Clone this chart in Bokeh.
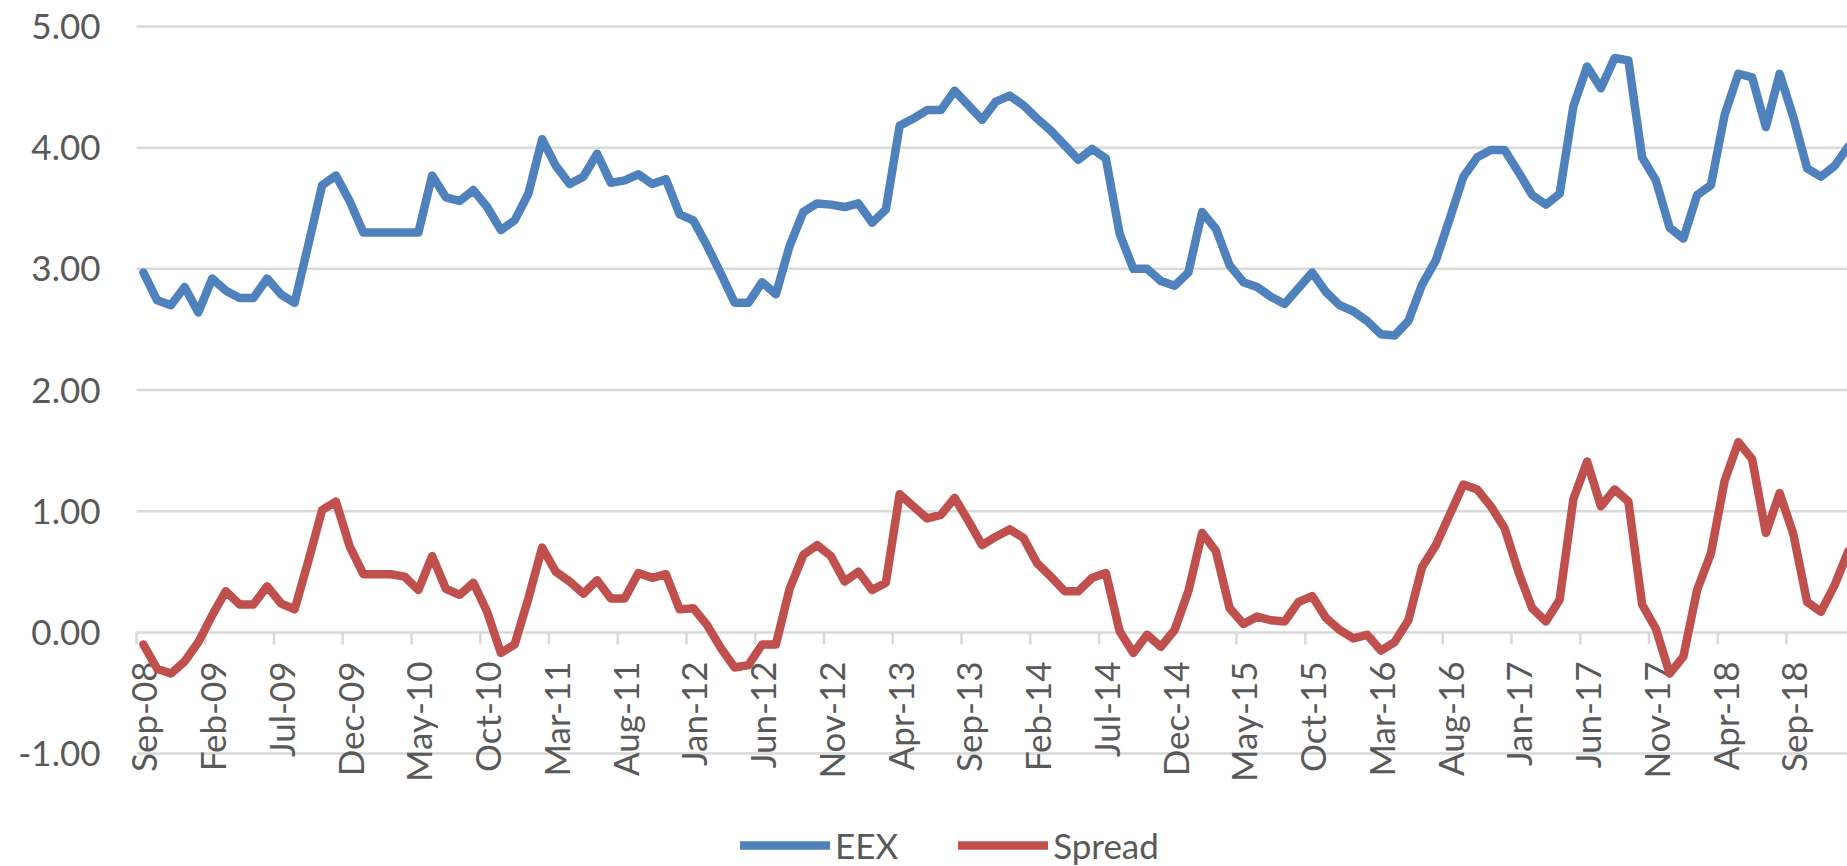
import math
import pandas as pd
from bokeh.plotting import figure
from bokeh.models import (Range1d, FixedTicker, NumeralTickFormatter, LinearAxis,
                          Legend, LegendItem, ColumnDataSource, LabelSet)
from bokeh.core.properties import value
from bokeh.embed import file_html
from bokeh.resources import INLINE

# ---------------- data ----------------
months = [d.strftime("%b-%y") for d in pd.date_range("2008-09-01", periods=125, freq="MS")]

eex = [2.97, 2.74, 2.70, 2.85, 2.64, 2.92, 2.82, 2.76, 2.76, 2.92,
       2.79, 2.72, 3.20, 3.69, 3.77, 3.56, 3.30, 3.30, 3.30, 3.30,
       3.30, 3.77, 3.59, 3.56, 3.65, 3.51, 3.32, 3.40, 3.62, 4.07,
       3.85, 3.70, 3.76, 3.95, 3.71, 3.73, 3.78, 3.70, 3.74, 3.45,
       3.40, 3.19, 2.96, 2.72, 2.72, 2.89, 2.79, 3.19, 3.47, 3.54,
       3.53, 3.51, 3.54, 3.38, 3.49, 4.18, 4.24, 4.31, 4.31, 4.47,
       4.35, 4.23, 4.38, 4.43, 4.35, 4.24, 4.14, 4.02, 3.90, 3.99,
       3.91, 3.29, 3.00, 3.00, 2.90, 2.86, 2.97, 3.47, 3.33, 3.03,
       2.89, 2.85, 2.77, 2.71, 2.84, 2.97, 2.81, 2.70, 2.65, 2.57,
       2.46, 2.45, 2.57, 2.87, 3.07, 3.41, 3.76, 3.92, 3.98, 3.98,
       3.80, 3.61, 3.53, 3.62, 4.34, 4.67, 4.49, 4.74, 4.72, 3.92,
       3.73, 3.34, 3.25, 3.61, 3.69, 4.27, 4.61, 4.58, 4.17, 4.61,
       4.25, 3.83, 3.76, 3.85, 4.01]

spread = [-0.10, -0.30, -0.34, -0.24, -0.08, 0.14, 0.34, 0.23, 0.23, 0.38,
          0.24, 0.19, 0.59, 1.01, 1.08, 0.71, 0.48, 0.48, 0.48, 0.46,
          0.35, 0.63, 0.36, 0.31, 0.41, 0.17, -0.17, -0.10, 0.28, 0.70,
          0.50, 0.42, 0.32, 0.43, 0.28, 0.28, 0.49, 0.45, 0.48, 0.19,
          0.20, 0.06, -0.13, -0.29, -0.27, -0.10, -0.10, 0.36, 0.64, 0.72,
          0.63, 0.42, 0.50, 0.35, 0.41, 1.14, 1.04, 0.94, 0.97, 1.11,
          0.92, 0.72, 0.79, 0.85, 0.78, 0.57, 0.46, 0.34, 0.34, 0.45,
          0.49, 0.01, -0.17, -0.02, -0.12, 0.02, 0.34, 0.82, 0.67, 0.20,
          0.07, 0.13, 0.10, 0.09, 0.25, 0.30, 0.12, 0.02, -0.05, -0.02,
          -0.15, -0.08, 0.10, 0.54, 0.72, 0.97, 1.22, 1.18, 1.04, 0.86,
          0.50, 0.20, 0.09, 0.27, 1.10, 1.41, 1.04, 1.18, 1.08, 0.23,
          0.03, -0.34, -0.20, 0.35, 0.65, 1.25, 1.57, 1.43, 0.82, 1.15,
          0.81, 0.25, 0.17, 0.39, 0.67]

tick_labels = ["Sep-08", "Feb-09", "Jul-09", "Dec-09", "May-10", "Oct-10", "Mar-11",
               "Aug-11", "Jan-12", "Jun-12", "Nov-12", "Apr-13", "Sep-13", "Feb-14",
               "Jul-14", "Dec-14", "May-15", "Oct-15", "Mar-16", "Aug-16", "Jan-17",
               "Jun-17", "Nov-17", "Apr-18", "Sep-18"]

y_ticks = [-1, 0, 1, 2, 3, 4, 5]

# ---------------- styling ----------------
FONT = "Lato"
TXT = "#595959"
GRID = "#d9d9d9"
BLUE = "#4f81bd"
RED = "#c0504d"
LINE_W = 8.5

W, H = 1847, 866
PLOT_LEFT_PX = 136          # where the plot area (gridlines) starts
PX_PER_MONTH = 13.75
Y0, Y1 = -1.932, 5.2145
PX_PER_UNIT = H / (Y1 - Y0)
TICK_LEN = 12 / PX_PER_UNIT
LABEL_GAP = 29 / PX_PER_UNIT

X_START = -0.5                                   # left edge of first category
X0 = X_START - PLOT_LEFT_PX / PX_PER_MONTH        # canvas left edge
X1 = X0 + W / PX_PER_MONTH                        # canvas right edge

idx = list(range(len(months)))
label_pos = [months.index(t) for t in tick_labels]
boundary_pos = [q - 0.5 for q in label_pos]

src = ColumnDataSource(dict(x=idx, month=months, eex=eex, spread=spread))

p = figure(width=W, height=H, output_backend="svg", toolbar_location=None,
           x_range=Range1d(X0, X1), y_range=Range1d(Y0, Y1),
           x_axis_location=None, y_axis_location=None,
           min_border_left=0, min_border_right=0, min_border_top=0, min_border_bottom=0,
           outline_line_color=None, background_fill_color="white", border_fill_color="white")

p.xgrid.visible = False
p.ygrid.visible = False

# horizontal gridlines spanning the plot area only
grid_src = ColumnDataSource(dict(y=y_ticks, x0=[X_START] * len(y_ticks),
                                 x1=[len(months) - 0.5] * len(y_ticks)))
p.segment(x0="x0", y0="y", x1="x1", y1="y", source=grid_src,
          line_color=GRID, line_width=2.5, level="underlay")

# value axis, fixed at the left edge of the plot area
ya = LinearAxis(fixed_location=X_START, ticker=FixedTicker(ticks=y_ticks),
                formatter=NumeralTickFormatter(format="0.00"))
ya.axis_line_color = None
ya.major_tick_line_color = None
ya.minor_tick_line_color = None
ya.major_tick_out = 0
ya.major_tick_in = 0
ya.major_label_standoff = 36
ya.major_label_text_font = FONT
ya.major_label_text_font_size = "35px"
ya.major_label_text_color = TXT
p.add_layout(ya, "left")

# category-axis tick marks (between categories, crossing at 0)
tick_src = ColumnDataSource(dict(x=boundary_pos, y0=[0] * len(boundary_pos),
                                 y1=[-TICK_LEN] * len(boundary_pos)))
p.segment(x0="x", y0="y0", x1="x", y1="y1", source=tick_src,
          line_color=GRID, line_width=2.5, level="underlay")

# category labels, rotated, hanging below the 0 line
lab_src = ColumnDataSource(dict(x=label_pos, y=[-LABEL_GAP] * len(label_pos), text=tick_labels))
labels = LabelSet(x="x", y="y", text="text", source=lab_src,
                  angle=math.pi / 2, text_align="right", text_baseline="middle",
                  text_font=value(FONT), text_font_size="35px", text_color=TXT,
                  level="underlay")
p.add_layout(labels)

r1 = p.line("x", "eex", source=src, line_color=BLUE, line_width=LINE_W,
            line_join="round", line_cap="round")
r2 = p.line("x", "spread", source=src, line_color=RED, line_width=LINE_W,
            line_join="round", line_cap="round")

legend = Legend(items=[LegendItem(label="EEX", renderers=[r1]),
                       LegendItem(label="Spread", renderers=[r2])],
                orientation="horizontal", location=(740, 0),
                glyph_width=90, glyph_height=20, label_standoff=5, spacing=60,
                padding=0, margin=0, border_line_color=None, background_fill_alpha=0,
                label_text_font=FONT, label_text_font_size="35px", label_text_color=TXT)
p.add_layout(legend)

open("out.html", "w").write(file_html(p, INLINE))
